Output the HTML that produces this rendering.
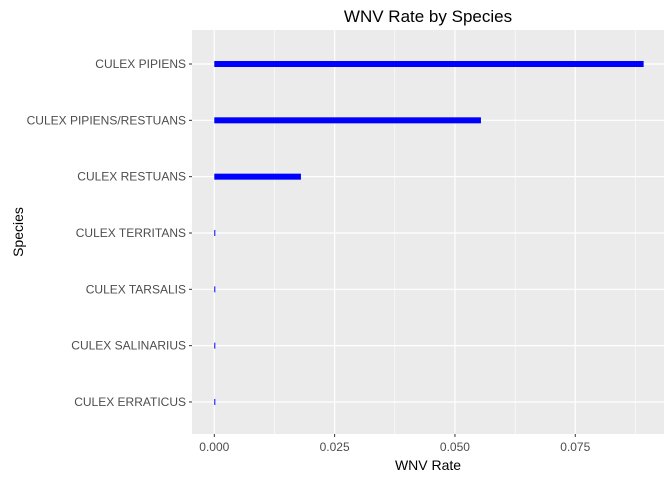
<!DOCTYPE html>
<html><head><meta charset="utf-8"><style>
body{margin:0;background:#fff;font-family:"Liberation Sans",Arial,sans-serif}
svg text{font-family:"Liberation Sans",Arial,sans-serif}
</style></head><body>
<svg id="chart" width="672" height="480">
<rect x="192" y="30" width="472" height="404" fill="#ebebeb"/>
<g id="grid"></g><g id="bars"></g><g id="axes"></g>
<text x="428" y="22" font-size="17" text-anchor="middle" fill="#000">WNV Rate by Species</text>
<text x="428" y="470" font-size="14" text-anchor="middle" fill="#000">WNV Rate</text>
<text x="23" y="232" font-size="14" text-anchor="middle" fill="#000" transform="rotate(-90 23 232)">Species</text>
</svg>
<script>
const categories=["CULEX PIPIENS","CULEX PIPIENS/RESTUANS","CULEX RESTUANS","CULEX TERRITANS","CULEX TARSALIS","CULEX SALINARIUS","CULEX ERRATICUS"];
const values=[0.0892,0.0554,0.0180,0.0002,0.0002,0.0002,0.0002];
const xTicks=[0,0.025,0.05,0.075];
const xTickLabels=["0.000","0.025","0.050","0.075"];
const NS="http://www.w3.org/2000/svg";
const x=v=>214.3+v*4813;
const y=i=>64+i*56.33;
function mk(tag,attrs,parent){const e=document.createElementNS(NS,tag);for(const k in attrs)e.setAttribute(k,attrs[k]);document.getElementById(parent).appendChild(e);return e;}
// minor grid
for(let i=0;i<xTicks.length;i++){const m=(xTicks[i]+0.0125);const e=mk("line",{x1:x(m),x2:x(m),y1:30,y2:434,stroke:"#fff","stroke-width":0.6},"grid");

}
xTicks.forEach((t,i)=>{const e=mk("line",{x1:x(t),x2:x(t),y1:30,y2:434,stroke:"#fff","stroke-width":1.2},"grid");


const tk=mk("line",{x1:x(t),x2:x(t),y1:434,y2:437,stroke:"#333"},"axes");


const l=mk("text",{x:x(t),y:451,"font-size":12,"text-anchor":"middle",fill:"#4d4d4d"},"axes");l.textContent=xTickLabels[i];

});
categories.forEach((c,i)=>{const g=mk("line",{x1:192,x2:664,y1:y(i),y2:y(i),stroke:"#fff","stroke-width":1.2},"grid");


const w=Math.max(1,x(values[i])-x(0));
const b=mk("rect",{x:x(0),y:y(i)-3,width:w,height:6,fill:"#0000ff"},"bars");


const tk=mk("line",{x1:189,x2:192,y1:y(i),y2:y(i),stroke:"#333"},"axes");


const l=mk("text",{x:186,y:y(i)+4,"font-size":12,"text-anchor":"end",fill:"#4d4d4d"},"axes");l.textContent=c;

});
</script>
</body></html>
